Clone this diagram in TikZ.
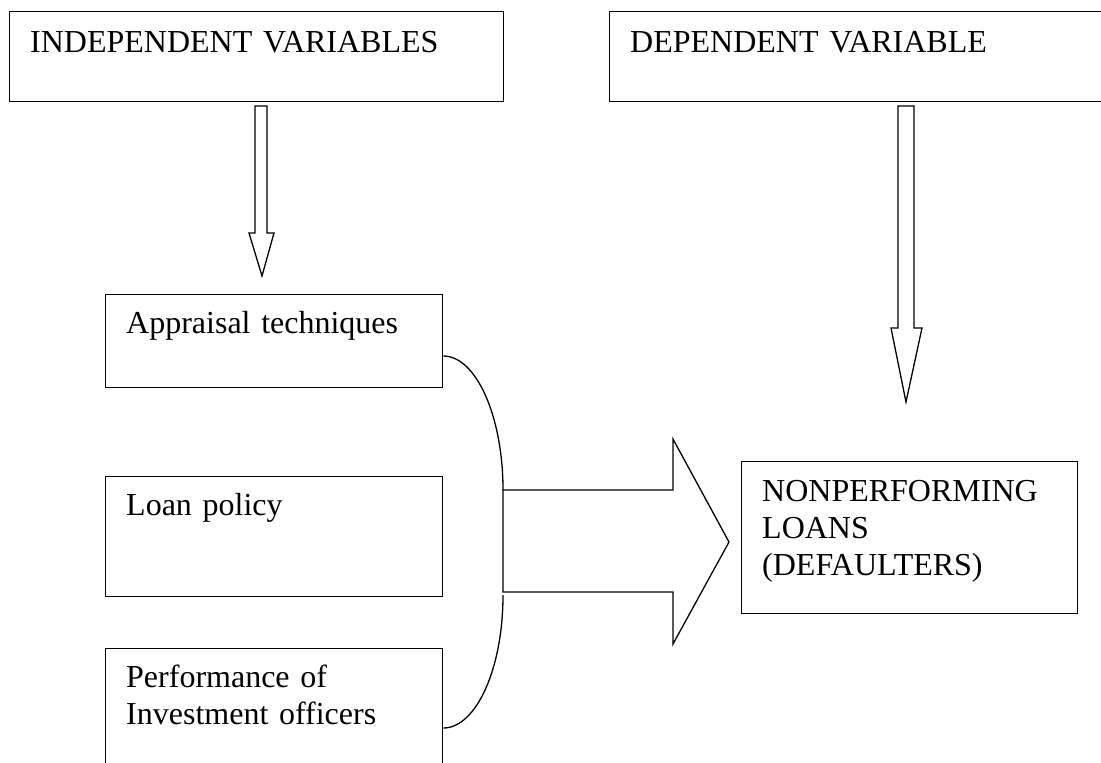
\documentclass[tikz,border=0pt]{standalone}
\usepackage{fontspec}
\setmainfont{Liberation Serif}
\usetikzlibrary{positioning,calc}
\tikzset{
  varbox/.style   = {rectangle, draw=black, line width=1.3pt, anchor=north west,
                     inner sep=0pt},
  vartext/.style  = {anchor=base west, align=left, inner sep=0pt, text width=470pt,
                     font=\fontsize{32}{37}\selectfont},
  hollowarr/.style = {draw=black, line width=1.3pt, fill=white, line join=miter},
  bracketline/.style = {draw=black, line width=1.3pt},
}

\begin{document}
\begin{tikzpicture}[x=1pt,y=-1pt]
  \useasboundingbox (0,0) rectangle (1101,763);
  \clip (0,0) rectangle (1101,763);

  % top boxes
  \node[varbox, minimum width=494pt, minimum height=90pt] (indep) at (9,11) {};
  \node[varbox, minimum width=494pt, minimum height=90pt] (dep)   at (609,11) {};
  \node[vartext] (indeplbl) at ($(indep.north west)+(21,41)$) {INDEPENDENT VARIABLES};
  \node[vartext] (deplbl)   at ($(dep.north west)+(21,41)$)   {DEPENDENT VARIABLE};

  % independent variables
  \node[varbox, minimum width=337pt, minimum height=93pt]  (appr) at (105,294) {};
  \node[varbox, minimum width=337pt, minimum height=120pt] (loan) at (105,476) {};
  \node[varbox, minimum width=337pt, minimum height=140pt] (perf) at (105,648) {};
  \node[vartext] (apprlbl) at ($(appr.north west)+(21,39)$) {Appraisal techniques};
  \node[vartext] (loanlbl) at ($(loan.north west)+(21,39)$) {Loan policy};
  \node[vartext] (perflbl) at ($(perf.north west)+(21,39)$) {Performance of\\Investment officers};

  % dependent variable
  \node[varbox, minimum width=336pt, minimum height=152pt] (npl) at (741,461) {};
  \node[vartext] (npllbl) at ($(npl.north west)+(21,40)$) {NONPERFORMING\\LOANS\\(DEFAULTERS)};

  % hollow arrows from the headings
  \coordinate (indeptip) at (262,276);
  \coordinate (deptip)   at (906,402);
  \draw[hollowarr] (255,106) -- (267,106) -- (267,233) -- (274,233) -- (indeptip)
        -- (249,233) -- (255,233) -- cycle;
  \draw[hollowarr] (898,106) -- (914,106) -- (914,328) -- (922,328) -- (deptip)
        -- (891,328) -- (898,328) -- cycle;

  % bracket joining the three boxes
  \coordinate (jtop) at (503,490);
  \coordinate (jbot) at (503,595);
  \draw[bracketline] (appr.east |- 0,356) .. controls (476,356) and (503,416) .. (jtop);
  \draw[bracketline] (jbot) .. controls (503,669) and (476,728) .. (perf.east |- 0,728);

  % big arrow into the outcome
  \coordinate (bigtip) at ($(npl.west |- 0,542)+(-12,0)$);
  \draw[hollowarr] (jtop) -- (673,490) -- (673,439) -- (bigtip) -- (673,644)
        -- (673,592) -- (503,592) -- cycle;
\end{tikzpicture}
\end{document}
